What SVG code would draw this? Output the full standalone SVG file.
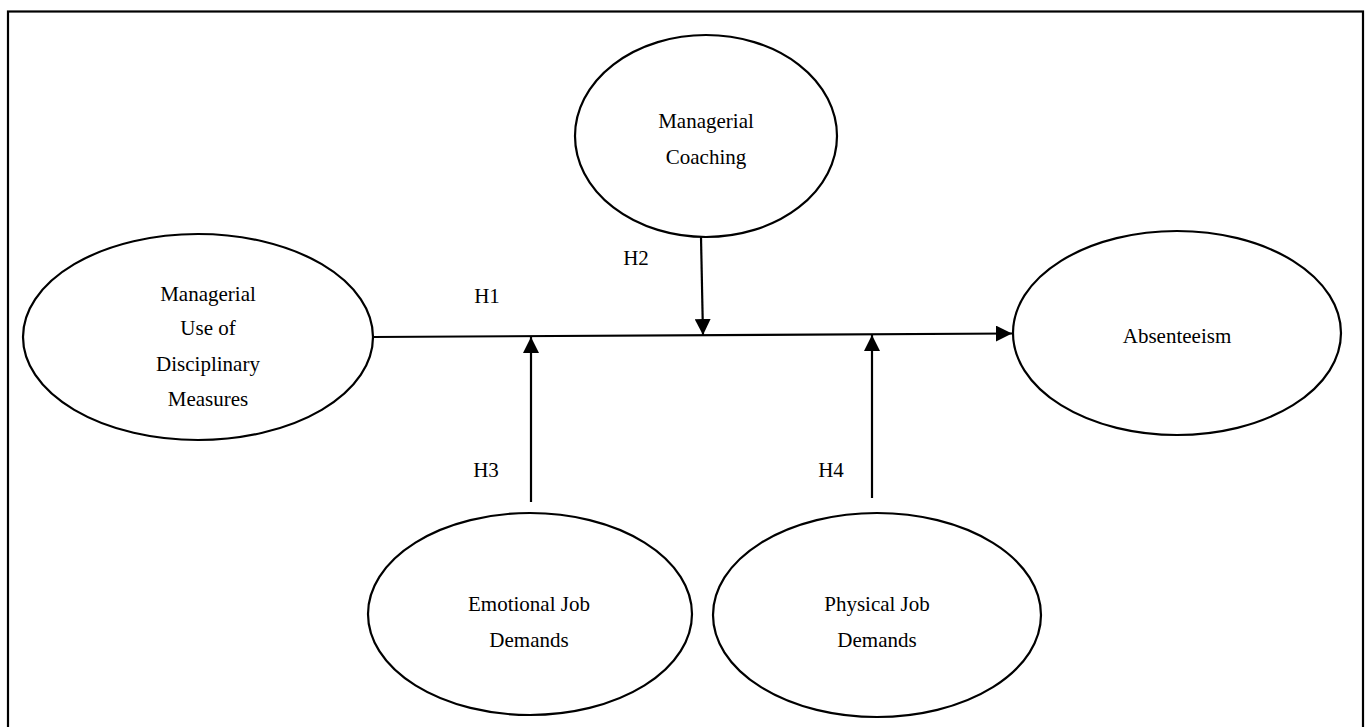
<svg xmlns="http://www.w3.org/2000/svg" width="1367" height="727" viewBox="0 0 1367 727">
<style>
.node ellipse{fill:#fff;stroke:#000;stroke-width:2.2}
text{font-family:"Liberation Serif","Times New Roman",serif;font-size:21px;fill:#000}
.c{text-anchor:middle}
.conn line{stroke:#000;stroke-width:2.2}
</style>
<defs>
<marker id="arr" viewBox="0 0 10 10" refX="10" refY="5" markerWidth="16" markerHeight="16" markerUnits="userSpaceOnUse" orient="auto">
<path d="M0,0 L10,5 L0,10 z" fill="#000"/>
</marker>
</defs>
<rect x="8" y="11.5" width="1355" height="740" fill="none" stroke="#000" stroke-width="2.2"/>
<g class="conn">
<line x1="373" y1="337" x2="1012" y2="333.5" marker-end="url(#arr)"/>
<line x1="701" y1="237" x2="703" y2="335" marker-end="url(#arr)"/>
<line x1="531" y1="502" x2="531" y2="337" marker-end="url(#arr)"/>
<line x1="872" y1="498" x2="872" y2="335" marker-end="url(#arr)"/>
<text x="487" y="303" class="c">H1</text>
<text x="636" y="265" class="c">H2</text>
<text x="486" y="477" class="c">H3</text>
<text x="831" y="477" class="c">H4</text>
</g>
<g id="coaching" class="node">
<ellipse cx="706" cy="136" rx="131" ry="101"/>
<text x="706" y="128" class="c">Managerial</text>
<text x="706" y="164" class="c">Coaching</text>
</g>
<g id="disciplinary" class="node">
<ellipse cx="198" cy="337" rx="175" ry="103"/>
<text x="208" y="301" class="c">Managerial</text>
<text x="208" y="335" class="c">Use of</text>
<text x="208" y="371" class="c">Disciplinary</text>
<text x="208" y="406" class="c">Measures</text>
</g>
<g id="absenteeism" class="node">
<ellipse cx="1177" cy="333" rx="164" ry="102"/>
<text x="1177" y="343" class="c">Absenteeism</text>
</g>
<g id="emotional" class="node">
<ellipse cx="530" cy="614" rx="162" ry="101"/>
<text x="529" y="611" class="c">Emotional Job</text>
<text x="529" y="647" class="c">Demands</text>
</g>
<g id="physical" class="node">
<ellipse cx="877" cy="615" rx="164" ry="102"/>
<text x="877" y="611" class="c">Physical Job</text>
<text x="877" y="647" class="c">Demands</text>
</g>
</svg>
